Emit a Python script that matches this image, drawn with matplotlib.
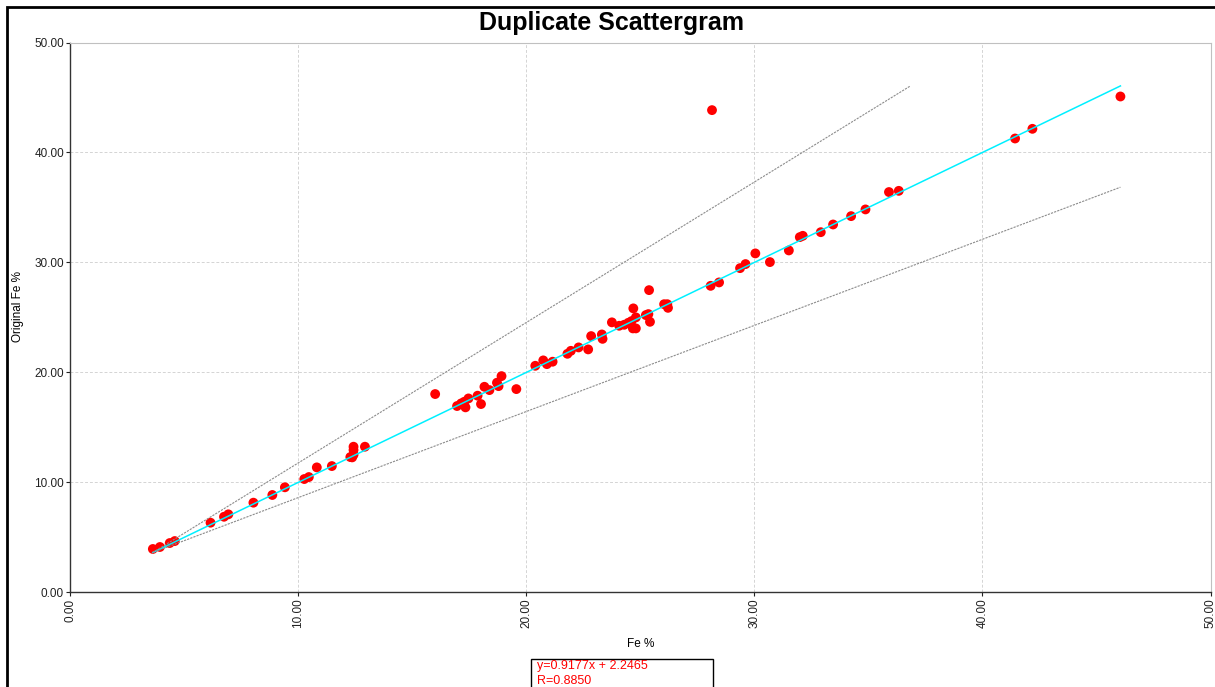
import matplotlib
matplotlib.use("Agg")
import matplotlib.pyplot as plt
from matplotlib.patches import Rectangle
import numpy as np

plt.rcParams['font.family'] = ['Liberation Sans', 'DejaVu Sans']

# Duplicate (x) vs original (y) Fe %
fe_dup = [3.62, 3.93, 4.36, 4.58, 6.15, 6.74, 6.93, 8.03, 8.86, 9.41,
          10.26, 10.46, 10.81, 11.47, 12.28, 12.36, 12.42, 12.42, 12.42, 12.92,
          16.00, 16.96, 17.14, 17.28, 17.46, 17.33, 17.86, 18.01, 18.16, 18.38,
          18.71, 18.78, 18.91, 19.56, 20.39, 20.74, 20.90, 21.15, 21.80, 21.95,
          22.29, 22.71, 22.84, 23.31, 23.34, 23.75, 24.07, 24.29, 24.47, 24.61,
          24.67, 24.80, 24.69, 24.80, 25.38, 25.24, 25.35, 25.42, 26.04, 26.18,
          26.21, 28.08, 28.45, 28.14, 29.37, 29.61, 30.04, 30.68, 31.51, 31.99,
          32.12, 32.91, 33.45, 34.24, 34.87, 35.90, 36.33, 41.43, 42.19, 46.05]
fe_orig = [3.94, 4.12, 4.48, 4.66, 6.33, 6.87, 7.09, 8.15, 8.85, 9.55,
           10.30, 10.48, 11.36, 11.48, 12.30, 12.27, 12.51, 12.94, 13.24, 13.24,
           18.03, 16.94, 17.18, 17.33, 17.63, 16.82, 17.88, 17.12, 18.69, 18.39,
           19.06, 18.75, 19.66, 18.48, 20.60, 21.09, 20.75, 20.97, 21.69, 21.96,
           22.27, 22.09, 23.30, 23.45, 23.05, 24.55, 24.24, 24.33, 24.51, 24.66,
           24.00, 24.00, 25.82, 25.00, 27.48, 25.21, 25.30, 24.60, 26.20, 26.20,
           25.87, 27.87, 28.18, 43.85, 29.48, 29.85, 30.82, 30.03, 31.09, 32.30,
           32.42, 32.75, 33.45, 34.21, 34.82, 36.40, 36.51, 41.27, 42.15, 45.09]

x_ticks = [0, 10, 20, 30, 40, 50]
y_ticks = [0, 10, 20, 30, 40, 50]
fit_text = ["y=0.9177x + 2.2465", "R=0.8850"]
band_factor = 0.8

W, H = 1215, 687
fig = plt.figure(figsize=(W / 100, H / 100), dpi=100)

def fx(px):
    return px / W

def fy(py):
    return 1 - py / H

ax = fig.add_axes([fx(70.3), fy(592.3), (1210.5 - 70.3) / W, (592.3 - 42.5) / H])

ax.scatter(fe_dup, fe_orig, s=50, color='#ff0000', edgecolors='none', zorder=2)

xmin, xmax = min(fe_dup), max(fe_dup)
ax.plot([xmin, xmax], [xmin, xmax], color='#00f0ff', lw=1.1, zorder=3)
ax.plot([xmin, xmax * band_factor], [xmin, xmax], color='#8c8c8c',
        lw=0.8, ls=(0, (2, 1)), zorder=3)
ax.plot([xmin, xmax], [xmin, xmax * band_factor], color='#8c8c8c',
        lw=0.8, ls=(0, (2, 1)), zorder=3)

ax.set_xlim(0, 50)
ax.set_ylim(0, 50)
ax.set_xticks(x_ticks)
ax.set_yticks(y_ticks)
ax.set_xticklabels([f"{v:.2f}" for v in x_ticks], rotation=90, fontsize=8.5)
ax.set_yticklabels([f"{v:.2f}" for v in y_ticks], fontsize=8.5)
ax.tick_params(length=3, width=0.8, pad=1.5, colors='#222222')
ax.grid(True, color='#d4d4d4', ls=(0, (3, 2)), lw=0.7)
ax.set_axisbelow(True)
for s in ['top', 'right']:
    ax.spines[s].set_color('#c0c0c0')
for s in ['left', 'bottom']:
    ax.spines[s].set_color('#333333')
    ax.spines[s].set_linewidth(1.0)

ax.set_xlabel("Fe %", fontsize=8.5, labelpad=7)
fig.text(fx(18), fy(307), "Original Fe %", rotation=90, ha='center', va='center', fontsize=8.5)

fig.text(fx(612), fy(23), "Duplicate Scattergram", ha='center', va='center',
         fontsize=18, fontweight='bold')

# outer frame
fig.patches.append(Rectangle((fx(7), -0.1), 1.2, fy(7) + 0.1, transform=fig.transFigure,
                             fill=False, edgecolor='black', lw=2, clip_on=False))

# fit text box
fig.patches.append(Rectangle((fx(531), -0.1), (713 - 531) / W, fy(659) + 0.1,
                             transform=fig.transFigure, fill=False, edgecolor='black',
                             lw=1, clip_on=False))
fig.text(fx(537), fy(666), fit_text[0], color='#ff0000', fontsize=9, va='center', ha='left')
fig.text(fx(537), fy(681), fit_text[1], color='#ff0000', fontsize=9, va='center', ha='left')

fig.savefig("out.png", dpi=100)
